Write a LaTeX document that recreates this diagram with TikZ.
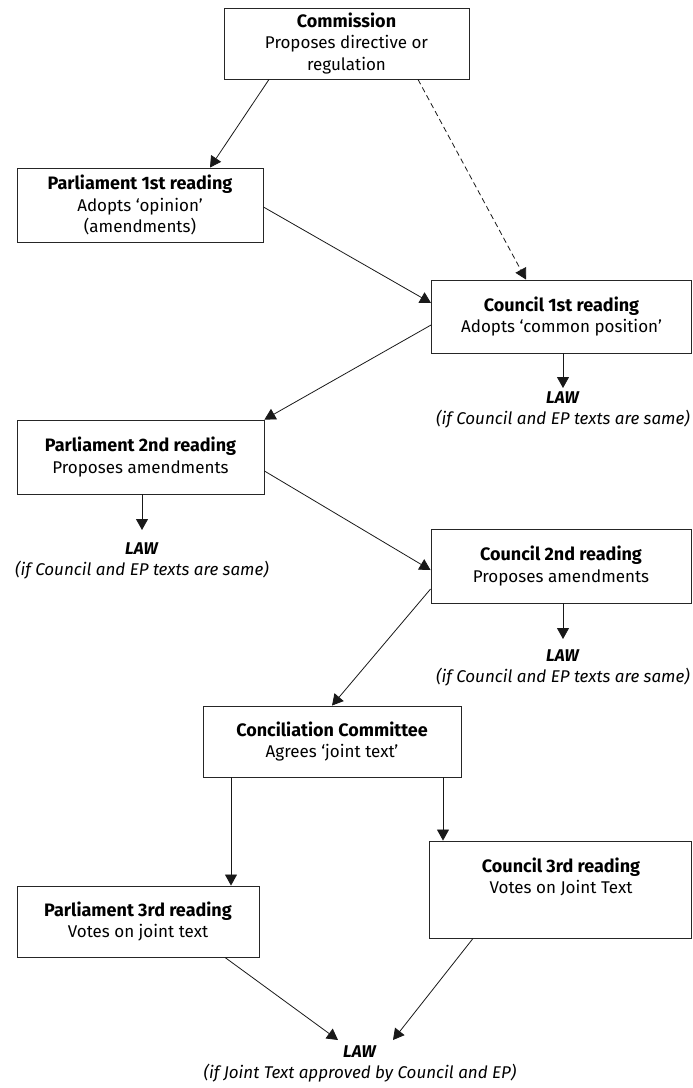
\documentclass[tikz,border=0pt]{standalone}
\usepackage{fontspec}
\setmainfont{Fira Sans}
\usetikzlibrary{arrows.meta}
\newcommand{\boxtitle}[1]{{\fontsize{18}{21.5}\selectfont\bfseries #1}}
\begin{document}
\begin{tikzpicture}[x=1pt,y=-1pt,
  box/.style={draw=black!85, line width=0.9pt, inner sep=0pt, align=center,
    font=\fontsize{17}{21.5}\selectfont},
  lawlbl/.style={align=center, inner sep=0pt, anchor=north, font=\fontsize{17}{21}\selectfont},
  arr/.style={draw=black!90, line width=0.8pt, -{Triangle[length=11pt,width=12pt]}},
  dasharr/.style={arr, dash pattern=on 5.5pt off 3.5pt}]
\useasboundingbox (0,0) rectangle (693,1088);

\node[box, minimum width=245, minimum height=71] (com) at (346.5,43.5)
  {\boxtitle{Commission}\\Proposes directive or\\regulation};
\node[box, minimum width=246, minimum height=74] (p1) at (140,205)
  {\boxtitle{Parliament 1st reading}\\Adopts ‘opinion’\\(amendments)};
\node[box, minimum width=260, minimum height=73] (c1) at (561.5,316.5)
  {\boxtitle{Council 1st reading}\\Adopts ‘common position’};
\node[box, minimum width=247, minimum height=74] (p2) at (140.5,457)
  {\boxtitle{Parliament 2nd reading}\\Proposes amendments};
\node[box, minimum width=260, minimum height=74] (c2) at (561,566)
  {\boxtitle{Council 2nd reading}\\Proposes amendments};
\node[box, minimum width=258, minimum height=71] (cc) at (332,741.5)
  {\boxtitle{Conciliation Committee}\\Agrees ‘joint text’};
\node[box, minimum width=242, minimum height=71] (p3) at (138,921.5)
  {\boxtitle{Parliament 3rd reading}\\Votes on joint text};
\node[box, minimum width=262, minimum height=97] (c3) at (560.5,889.5) {};
\node[align=center, inner sep=0pt, font=\fontsize{17}{21.5}\selectfont] (c3t) at (561,877)
  {\boxtitle{Council 3rd reading}\\Votes on Joint Text};

\node[lawlbl] (law1) at (563,392)
  {\textbf{\textit{LAW}}\\\textit{(if Council and EP texts are same)}};
\node[lawlbl] (law2) at (142,543)
  {\textbf{\textit{LAW}}\\\textit{(if Council and EP texts are same)}};
\node[lawlbl] (law3) at (563,650)
  {\textbf{\textit{LAW}}\\\textit{(if Council and EP texts are same)}};
\node[lawlbl] (lawf) at (360,1046)
  {\textbf{\textit{LAW}}\\\textit{(if Joint Text approved by Council and EP)}};

\draw[arr] ([xshift=-77.5pt]com.south) -- ([xshift=70pt]p1.north);
\draw[dasharr] ([xshift=71.5pt]com.south) -- ([xshift=-35.5pt]c1.north);
\draw[arr] ([yshift=-2pt]p1.east) -- ([yshift=13.5pt]c1.west);
\draw[arr] ([yshift=-8.5pt]c1.west) -- (p2.north east);
\draw[arr] (c1.south -| law1) -- ([yshift=4pt]law1.north);
\draw[arr] (p2.south -| law2) -- ([yshift=13pt]law2.north);
\draw[arr] ([yshift=-14pt]p2.east) -- ([yshift=-4pt]c2.west);
\draw[arr] (c2.south -| law3) -- ([yshift=11pt]law3.north);
\draw[arr] ([yshift=-23pt]c2.west) -- (cc.north);
\draw[arr] ([xshift=-101pt]cc.south) -- ([xshift=-101pt]cc.south |- p3.north);
\draw[arr] ([xshift=111pt]cc.south) -- ([xshift=111pt]cc.south |- c3.north);
\draw[arr] ([xshift=87pt]p3.south) -- ([xshift=-22pt,yshift=6pt]lawf.north);
\draw[arr] ([xshift=-87.5pt]c3.south) -- ([xshift=33pt,yshift=6pt]lawf.north);
\end{tikzpicture}
\end{document}
